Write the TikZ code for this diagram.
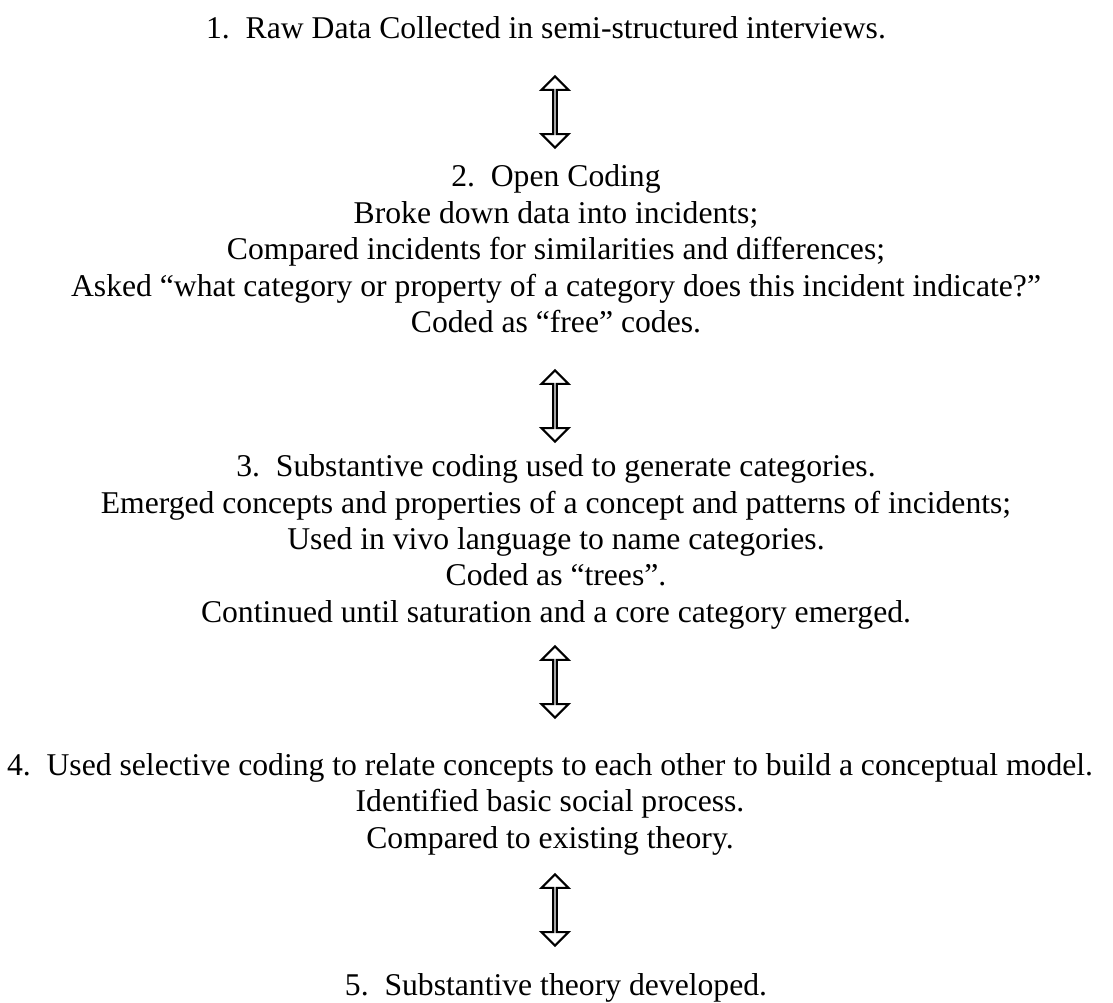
\documentclass[tikz,border=0pt]{standalone}
\usepackage{fontspec}
\setmainfont{Liberation Serif}
\usetikzlibrary{positioning, shapes.arrows}

\tikzset{
  stage/.style={align=center, inner sep=0pt, font=\fontsize{13.3}{15.3}\selectfont},
  flowarrow/.style={double arrow, draw, line width=0.9pt, shape border rotate=90,
    minimum height=30pt, minimum width=11.4pt, double arrow head extend=3pt,
    double arrow tip angle=90, inner sep=0pt}
}

\begin{document}
\begin{tikzpicture}[x=0.42pt, y=-0.42pt]
            % frame of the page
            \useasboundingbox (0,0) rectangle (1113,1003);

            % 1. The five stages
            \node[stage] (s1) at (546,28) {1.\ \ Raw Data Collected in semi-structured interviews.};
            \node[stage] (s2) at (556,249) {2.\ \ Open Coding\\
              Broke down data into incidents;\\
              Compared incidents for similarities and differences;\\
              Asked ``what category or property of a category does this incident indicate?''\\
              Coded as ``free'' codes.};
            \node[stage] (s3) at (556,542) {3.\ \ Substantive coding used to generate categories.\\
              Emerged concepts and properties of a concept and patterns of incidents;\\
              Used in vivo language to name categories.\\
              Coded as ``trees''.\\
              Continued until saturation and a core category emerged.};
            \node[stage] (s4) at (550,804) {4.\ \ Used selective coding to relate concepts to each other to build a conceptual model.\\
              Identified basic social process.\\
              Compared to existing theory.};
            \node[stage] (s5) at (556,988) {5.\ \ Substantive theory developed.};

            % 2. The arrows between them
            \node[flowarrow] (a1) at (555,112) {};
            \node[flowarrow] (a2) at (555,406) {};
            \node[flowarrow] (a3) at (555,682) {};
            \node[flowarrow] (a4) at (555,910) {};
        \end{tikzpicture}
\end{document}
